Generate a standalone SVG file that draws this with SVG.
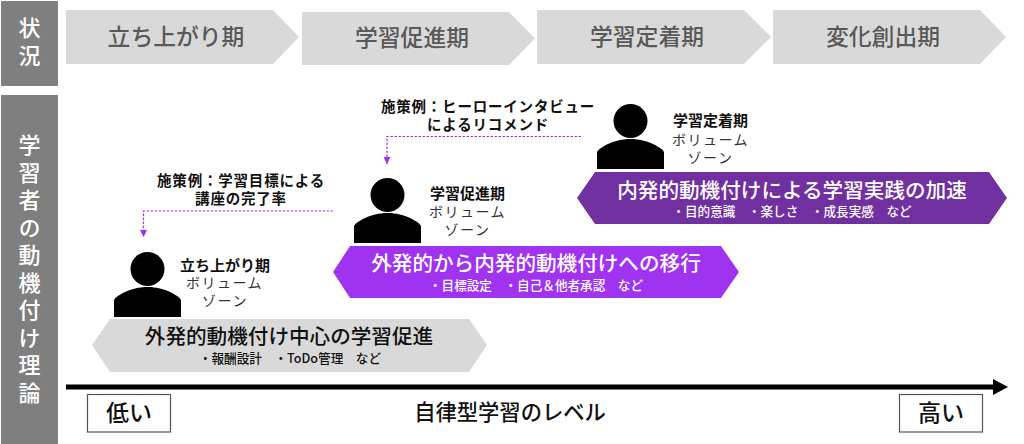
<svg xmlns="http://www.w3.org/2000/svg" width="1024" height="444" viewBox="0 0 1024 444">
<style>
text{font-family:"Noto Sans CJK JP","Noto Sans",sans-serif;text-anchor:middle}
.side{fill:#7f7f7f}
.sidet{fill:#fff;font-size:22px;font-weight:500;writing-mode:vertical-rl;text-anchor:start;letter-spacing:5.500px}
.chev{fill:#d9d9d9}
.chevt{fill:#595959;font-size:22.800px;font-weight:500}
.lab{fill:#111;font-size:15px;font-weight:700}
.zone{fill:#333;font-size:14px;letter-spacing:1.500px}
.cap{fill:#111;font-size:14.500px;font-weight:700;letter-spacing:.8px}
.head{font-size:20.600px;font-weight:500}
.sub{font-size:12.600px;font-weight:500}
.dash{fill:none;stroke:#9b30f0;stroke-width:1.200;stroke-dasharray:2.500 1.500}
.box{fill:#fff;stroke:#555;stroke-width:1.200}
</style>
<defs>
<marker id="arrP" markerUnits="userSpaceOnUse" markerWidth="8" markerHeight="7" refX="7" refY="3.500" orient="auto"><path d="M0 0L7 3.500L0 7Z" fill="#9b30f0"/></marker>
<g id="person"><circle cx="33.500" cy="-33" r="17" fill="#000"/><path d="M0 15V-2C2-6 16-15 33.500-15S65-6 67-2V15Z" fill="#000"/></g>
</defs>
<rect width="1024" height="444" fill="#fff"/>
<g id="side-status"><rect class="side" x="1" y="1" width="57" height="85"/><text class="sidet" x="29.500" y="17">状況</text></g>
<g id="side-theory"><rect class="side" x="1" y="95" width="57" height="349"/><text class="sidet" x="29.500" y="134">学習者の動機付け理論</text></g>
<g id="phase1"><path class="chev" d="M66 10H273L299 37L273 64H66Z"/><text class="chevt" x="176" y="44.500">立ち上がり期</text></g>
<g id="phase2"><path class="chev" d="M302 12H509L535 38.500L509 65H302Z"/><text class="chevt" x="412" y="45.500">学習促進期</text></g>
<g id="phase3"><path class="chev" d="M537 10H744L771 37L744 64H537Z"/><text class="chevt" x="647" y="44.500">学習定着期</text></g>
<g id="phase4"><path class="chev" d="M773 10H980L1006 37L980 64H773Z"/><text class="chevt" x="883" y="44.500">変化創出期</text></g>
<g id="connectors">
<path class="dash" d="M333 211H143.500V237" marker-end="url(#arrP)"/>
<path class="dash" d="M581 136.500H387V164" marker-end="url(#arrP)"/>
<path d="M66 387H994" stroke="#000" stroke-width="5" fill="none"/><path d="M993 379L1008 387L993 395Z" fill="#000"/>
</g>
<g id="measure1"><text class="cap"><tspan x="241" y="186">施策例：学習目標による</tspan><tspan x="241" y="204">講座の完了率</tspan></text></g>
<g id="measure2"><text class="cap"><tspan x="488" y="112">施策例：ヒーローインタビュー</tspan><tspan x="488" y="130">によるリコメンド</tspan></text></g>
<g id="person1"><use href="#person" x="114" y="302"/><text class="lab" x="225" y="271">立ち上がり期</text><text class="zone"><tspan x="224.500" y="288">ボリューム</tspan><tspan x="225" y="306">ゾーン</tspan></text></g>
<g id="person2"><use href="#person" x="354" y="228"/><text class="lab" x="467.500" y="199">学習促進期</text><text class="zone"><tspan x="467.500" y="217">ボリューム</tspan><tspan x="467.500" y="235">ゾーン</tspan></text></g>
<g id="person3"><use href="#person" x="597" y="154"/><text class="lab" x="710.500" y="126">学習定着期</text><text class="zone"><tspan x="710.500" y="145">ボリューム</tspan><tspan x="710.500" y="163">ゾーン</tspan></text></g>
<g id="zone3"><path fill="#7030a0" d="M595 172H989L1007 198L989 224H595L577 198Z"/><text fill="#fff"><tspan class="head" x="792" y="198">内発的動機付けによる学習実践の加速</tspan><tspan class="sub" x="792" y="215.500">・目的意識　・楽しさ　・成長実感　など</tspan></text></g>
<g id="zone2"><path fill="#a033f0" d="M350 246H721L739 272L721 298H350L333 272Z"/><text fill="#fff"><tspan class="head" x="536" y="271">外発的から内発的動機付けへの移行</tspan><tspan class="sub" x="536" y="289.500">・目標設定　・自己＆他者承認　など</tspan></text></g>
<g id="zone1"><path fill="#d9d9d9" d="M110 319H469L487 345L469 372H110L92 345Z"/><text fill="#111"><tspan class="head" x="289" y="344">外発的動機付け中心の学習促進</tspan><tspan class="sub" x="290" y="362.500">・報酬設計　・ToDo管理　など</tspan></text></g>
<g id="low"><rect class="box" x="87.500" y="394.500" width="83" height="37.500"/><text x="129" y="420.500" font-size="23" font-weight="500" fill="#111">低い</text></g>
<g id="high"><rect class="box" x="899.500" y="394.500" width="83" height="37.500"/><text x="941" y="420.500" font-size="23" font-weight="500" fill="#111">高い</text></g>
<text id="axis-label" x="510" y="420" font-size="21.300" font-weight="500" fill="#111">自律型学習のレベル</text>
</svg>
